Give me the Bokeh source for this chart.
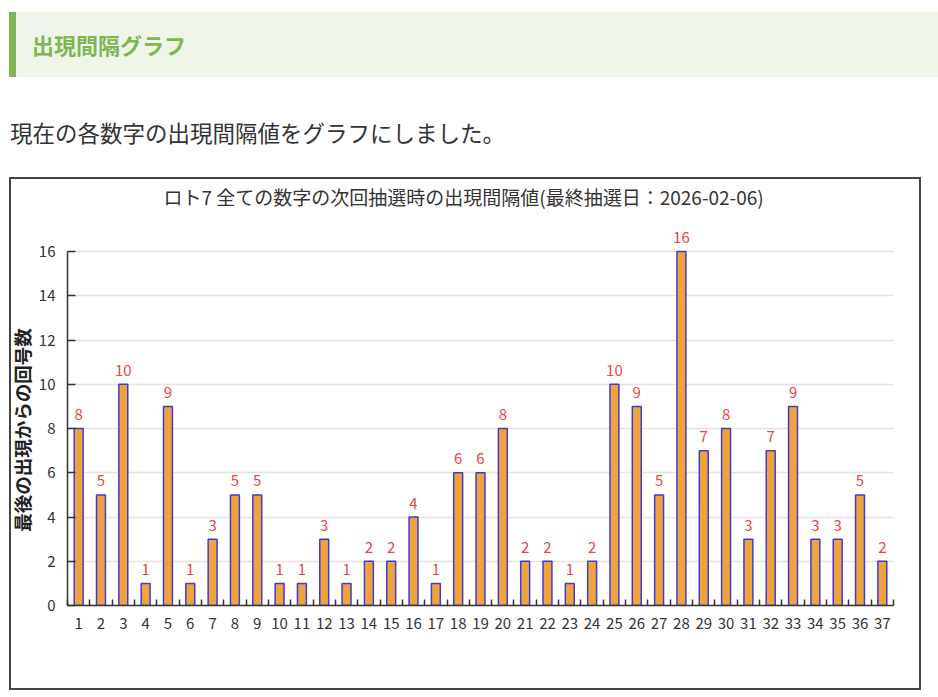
from bokeh.plotting import figure
from bokeh.models import ColumnDataSource, FixedTicker, Range1d, Div, Spacer
from bokeh.layouts import column, row
from bokeh.embed import file_html
from bokeh.resources import INLINE
from bokeh.core.properties import value

# ---- data ----
numbers = list(range(1, 38))
intervals = [8, 5, 10, 1, 9, 1, 3, 5, 5, 1, 1, 3, 1, 2, 2, 4, 1, 6, 6, 8,
             2, 2, 1, 2, 10, 9, 5, 16, 7, 8, 3, 7, 9, 3, 3, 5, 2]
y_ticks = [0, 2, 4, 6, 8, 10, 12, 14, 16]
chart_title = "ロト7 全ての数字の次回抽選時の出現間隔値(最終抽選日：2026-02-06)"
y_label = "最後の出現からの回号数"
heading = "出現間隔グラフ"
sentence = "現在の各数字の出現間隔値をグラフにしました。"

FONT = "Noto Sans CJK JP"

src = ColumnDataSource(dict(x=numbers, top=intervals, label=[str(v) for v in intervals]))

p = figure(width=912, height=513, x_range=Range1d(0.5, 37.5), y_range=Range1d(0, 17.72),
           output_backend="svg", toolbar_location=None,
           min_border_left=58, min_border_right=28, min_border_top=36, min_border_bottom=85,
           title=chart_title)
p.background_fill_color = "white"
p.border_fill_color = "white"
p.outline_line_color = None

p.vbar(x="x", top="top", width=0.4, source=src, fill_color="#f0a33c",
       line_color="#3c3cdc", line_width=1.5)
p.text(x="x", y="top", text="label", source=src, text_align="center",
       text_baseline="alphabetic", y_offset=-14, text_color="#e8464a",
       text_font=value(FONT), text_font_size="15px")

# title
p.title.text_font = FONT
p.title.text_font_size = "19px"
p.title.text_font_style = "normal"
p.title.text_color = "#333333"
p.title.align = "left"
p.title.offset = 96
p.title.standoff = 7

# x axis
xa = p.xaxis[0]
xa.ticker = FixedTicker(ticks=numbers, minor_ticks=[n + 0.5 for n in range(0, 38)])
xa.major_tick_line_color = None
xa.minor_tick_in = 6
xa.minor_tick_out = 0
xa.minor_tick_line_color = "#333333"
xa.minor_tick_line_width = 1.5
xa.axis_line_color = "#333333"
xa.axis_line_width = 1.5
xa.major_label_standoff = 6
xa.major_label_text_font = FONT
xa.major_label_text_font_size = "15px"
xa.major_label_text_color = "#333333"

# y axis
ya = p.yaxis[0]
ya.ticker = FixedTicker(ticks=y_ticks)
ya.bounds = (0, 16)
ya.major_tick_in = 8
ya.major_tick_out = 0
ya.major_tick_line_color = "#333333"
ya.major_tick_line_width = 1.5
ya.minor_tick_line_color = None
ya.axis_line_color = "#333333"
ya.axis_line_width = 1.5
ya.major_label_standoff = 12
ya.major_label_text_font = FONT
ya.major_label_text_font_size = "15px"
ya.major_label_text_color = "#333333"

p.xgrid.visible = False
p.ygrid.ticker = FixedTicker(ticks=y_ticks)
p.ygrid.grid_line_color = "#e4e4e4"
p.ygrid.grid_line_width = 1.5

html = f"""
<div style="position:relative;width:938px;height:177px;font-family:'{FONT}',sans-serif;">
  <div style="position:absolute;left:9px;top:12px;width:929px;height:65px;background:#eff6e9;border-left:7px solid #7db652;box-sizing:border-box;"></div>
  <div style="position:absolute;left:32px;top:12px;height:65px;line-height:65px;font-size:22px;font-weight:bold;color:#7db652;white-space:nowrap;">{heading}</div>
  <div style="position:absolute;left:10px;top:115px;line-height:34px;font-size:22.5px;color:#333;white-space:nowrap;">{sentence}</div>
  <div style="position:absolute;left:9px;top:177px;width:912px;height:513px;border:2px solid #444;box-sizing:border-box;z-index:10;pointer-events:none;"></div>
  <div style="position:absolute;left:22px;top:430px;transform:translate(-50%,-50%) rotate(-90deg);font-size:18.5px;font-weight:bold;line-height:1;color:#222;white-space:nowrap;z-index:11;">{y_label}</div>
</div>
"""
top = Div(text=html, width=938, height=177, margin=0)
layout = column(top, row(Spacer(width=9, height=513, margin=0), p, margin=0), margin=0)

open("out.html", "w").write(file_html(layout, INLINE))
